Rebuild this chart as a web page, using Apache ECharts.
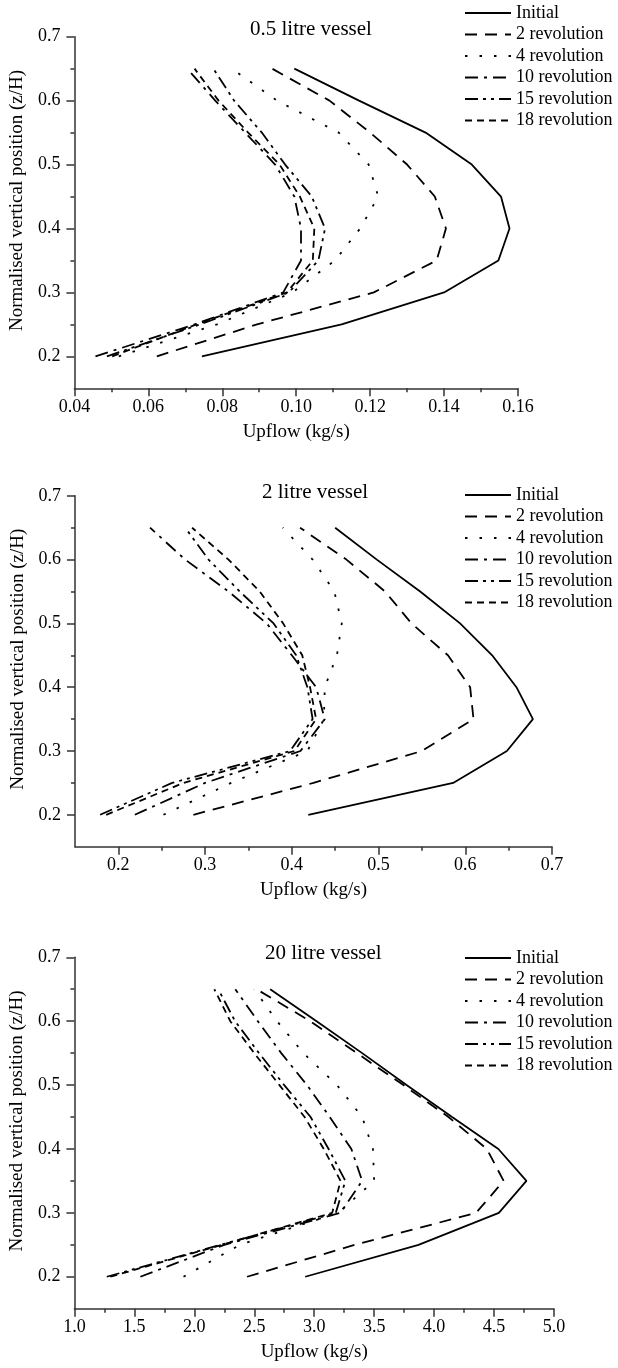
<!DOCTYPE html>
<html>
<head>
<meta charset="utf-8">
<script src="https://cdn.jsdelivr.net/npm/echarts/dist/echarts.min.js"></script>
<style>
html,body{margin:0;padding:0;background:#fff;}
#c{width:618px;height:1368px;}
</style>
</head>
<body>
<div id="c"></div>
<script>
// ---------- data ----------
const seriesNames = ['Initial', '2 revolution', '4 revolution', '10 revolution', '15 revolution', '18 revolution'];
const levels = [0.2, 0.25, 0.3, 0.35, 0.4, 0.45, 0.5, 0.55, 0.6, 0.65];

// 0.5 litre vessel (upflow, kg/s)
const p1Initial = [0.0745, 0.1123, 0.1400, 0.1547, 0.1577, 0.1554, 0.1475, 0.1350, 0.1170, 0.0995];
const p1Rev2    = [0.0623, 0.0894, 0.1210, 0.1380, 0.1405, 0.1375, 0.1300, 0.1200, 0.1090, 0.0935];
const p1Rev4    = [0.0520, 0.0786, 0.0990, 0.1105, 0.1173, 0.1222, 0.1196, 0.1115, 0.0948, 0.0826];
const p1Rev10   = [0.0457, 0.0725, 0.0965, 0.1013, 0.1013, 0.0995, 0.0943, 0.0862, 0.0781, 0.0705];
const p1Rev15   = [0.0488, 0.0740, 0.0980, 0.1060, 0.1078, 0.1042, 0.0970, 0.0907, 0.0832, 0.0776];
const p1Rev18   = [0.0502, 0.0730, 0.0975, 0.1045, 0.1049, 0.1010, 0.0955, 0.0870, 0.0790, 0.0725];

// 2 litre vessel
const p2Initial = [0.419, 0.586, 0.648, 0.678, 0.659, 0.631, 0.594, 0.548, 0.498, 0.450];
const p2Rev2    = [0.2865, 0.425, 0.550, 0.6095, 0.6056, 0.580, 0.538, 0.5075, 0.463, 0.4095];
const p2Rev4    = [0.252, 0.330, 0.418, 0.437, 0.438, 0.452, 0.4576, 0.449, 0.424, 0.3896];
const p2Rev10   = [0.219, 0.300, 0.410, 0.438, 0.428, 0.400, 0.371, 0.327, 0.277, 0.2365];
const p2Rev15   = [0.179, 0.262, 0.398, 0.424, 0.418, 0.405, 0.379, 0.340, 0.304, 0.277];
const p2Rev18   = [0.186, 0.275, 0.403, 0.428, 0.421, 0.412, 0.390, 0.363, 0.327, 0.285];

// 20 litre vessel
const p3Initial = [2.925, 3.87, 4.54, 4.77, 4.536, 4.15, 3.77, 3.40, 3.02, 2.633];
const p3Rev2    = [2.44, 3.34, 4.35, 4.58, 4.44, 4.12, 3.744, 3.356, 2.967, 2.52];
const p3Rev4    = [1.91, 2.38, 3.20, 3.50, 3.49, 3.40, 3.19, 2.91, 2.69, 2.50];
const p3Rev10   = [1.55, 2.25, 3.22, 3.40, 3.31, 3.13, 2.94, 2.725, 2.53, 2.342];
const p3Rev15   = [1.27, 2.22, 3.18, 3.26, 3.12, 2.97, 2.75, 2.54, 2.34, 2.20];
const p3Rev18   = [1.30, 2.23, 3.15, 3.22, 3.08, 2.92, 2.71, 2.50, 2.30, 2.167];

// tick labels
const yTicks  = [0.2, 0.3, 0.4, 0.5, 0.6, 0.7];
const yMinor  = [0.25, 0.35, 0.45, 0.55, 0.65];
const p1XTicks = [0.04, 0.06, 0.08, 0.10, 0.12, 0.14, 0.16];
const p1XMinor = [0.05, 0.07, 0.09, 0.11, 0.13, 0.15];
const p2XTicks = [0.2, 0.3, 0.4, 0.5, 0.6, 0.7];
const p2XMinor = [0.25, 0.35, 0.45, 0.55, 0.65];
const p3XTicks = [1.0, 1.5, 2.0, 2.5, 3.0, 3.5, 4.0, 4.5, 5.0];
const p3XMinor = [1.25, 1.75, 2.25, 2.75, 3.25, 3.75, 4.25, 4.75];

const titles = ['0.5 litre vessel', '2 litre vessel', '20 litre vessel'];
const xName = 'Upflow (kg/s)';
const yName = 'Normalised vertical position (z/H)';

// ---------- styling / layout ----------
const FONT = 'Liberation Serif';
const dashes = ['solid', [12, 8], [2.5, 12], [13, 6, 3, 6], [13, 5, 3, 5, 3, 5], [7, 5]];
const panels = [
  { grid: {left: 74, top: 36.7, width: 444, height: 351.6}, xMin: 0.04, xMax: 0.16, xTicks: p1XTicks, xMinor: p1XMinor, dec: 2,
    title: {left: 250, top: 19}, legend: {left: 464, top: 4},
    data: [p1Initial, p1Rev2, p1Rev4, p1Rev10, p1Rev15, p1Rev18] },
  { grid: {left: 75, top: 495.8, width: 477, height: 350.9}, xMin: 0.15, xMax: 0.7, xTicks: p2XTicks, xMinor: p2XMinor, dec: 1,
    title: {left: 262, top: 482}, legend: {left: 464, top: 486},
    data: [p2Initial, p2Rev2, p2Rev4, p2Rev10, p2Rev15, p2Rev18] },
  { grid: {left: 74, top: 957.3, width: 480, height: 351.4}, xMin: 1.0, xMax: 5.0, xTicks: p3XTicks, xMinor: p3XMinor, dec: 1,
    title: {left: 265, top: 943}, legend: {left: 464, top: 949},
    data: [p3Initial, p3Rev2, p3Rev4, p3Rev10, p3Rev15, p3Rev18] }
];

const axisLineStyle = {color: '#333', width: 1.5};
const grids = [], xAxes = [], yAxes = [], series = [], titleOpts = [], legends = [];

panels.forEach((p, pi) => {
  grids.push(Object.assign({containLabel: false}, p.grid));
  xAxes.push({
    type: 'value', gridIndex: pi, position: 'bottom', min: p.xMin, max: p.xMax,
    axisLine: {show: true, onZero: false, lineStyle: axisLineStyle},
    axisTick: {show: true, inside: false, length: 8, customValues: p.xTicks, lineStyle: axisLineStyle},
    axisLabel: {customValues: p.xTicks, formatter: v => v.toFixed(p.dec), fontFamily: FONT, fontSize: 18, color: '#000', margin: 10},
    splitLine: {show: false},
    name: xName, nameLocation: 'middle', nameGap: 34,
    nameTextStyle: {fontFamily: FONT, fontSize: 19, color: '#000'}
  });
  xAxes.push({
    type: 'value', gridIndex: pi, position: 'bottom', min: p.xMin, max: p.xMax,
    axisLine: {show: false, onZero: false},
    axisTick: {show: true, inside: false, length: 4, customValues: p.xMinor, lineStyle: axisLineStyle},
    axisLabel: {show: false}, splitLine: {show: false}
  });
  yAxes.push({
    type: 'value', gridIndex: pi, position: 'left', min: 0.15, max: 0.7,
    axisLine: {show: true, onZero: false, lineStyle: axisLineStyle},
    axisTick: {show: true, inside: false, length: 8, customValues: yTicks, lineStyle: axisLineStyle},
    axisLabel: {customValues: yTicks, formatter: v => v.toFixed(1), fontFamily: FONT, fontSize: 18, color: '#000', margin: 14},
    splitLine: {show: false},
    name: yName, nameLocation: 'middle', nameGap: 46,
    nameTextStyle: {fontFamily: FONT, fontSize: 19, color: '#000', padding: [0, 0, 0, 24]}
  });
  yAxes.push({
    type: 'value', gridIndex: pi, position: 'left', min: 0.15, max: 0.7,
    axisLine: {show: false, onZero: false},
    axisTick: {show: true, inside: false, length: 4, customValues: yMinor, lineStyle: axisLineStyle},
    axisLabel: {show: false}, splitLine: {show: false}
  });

  titleOpts.push({
    text: titles[pi], left: p.title.left, top: p.title.top, padding: 0,
    textStyle: {fontFamily: FONT, fontSize: 21, fontWeight: 'normal', color: '#000'}
  });

  legends.push({
    data: seriesNames, orient: 'vertical', left: p.legend.left, top: p.legend.top, padding: 0,
    itemWidth: 46, itemHeight: 14, itemGap: 3.5, selectedMode: false,
    itemStyle: {opacity: 0},
    textStyle: {fontFamily: FONT, fontSize: 18, color: '#000', lineHeight: 18}
  });

  p.data.forEach((xs, si) => {
    series.push({
      name: seriesNames[si], type: 'line', xAxisIndex: pi * 2, yAxisIndex: pi * 2,
      data: levels.map((y, i) => [xs[i], y]),
      symbol: 'none', smooth: false, silent: true,
      lineStyle: {color: '#000', width: 1.8, type: dashes[si]},
      itemStyle: {color: '#000'}
    });
  });
});

const chart = echarts.init(document.getElementById('c'), null, {renderer: 'canvas'});
chart.setOption({
  animation: false,
  backgroundColor: '#fff',
  title: titleOpts,
  legend: legends,
  grid: grids,
  xAxis: xAxes,
  yAxis: yAxes,
  series: series
});
</script>
</body>
</html>
